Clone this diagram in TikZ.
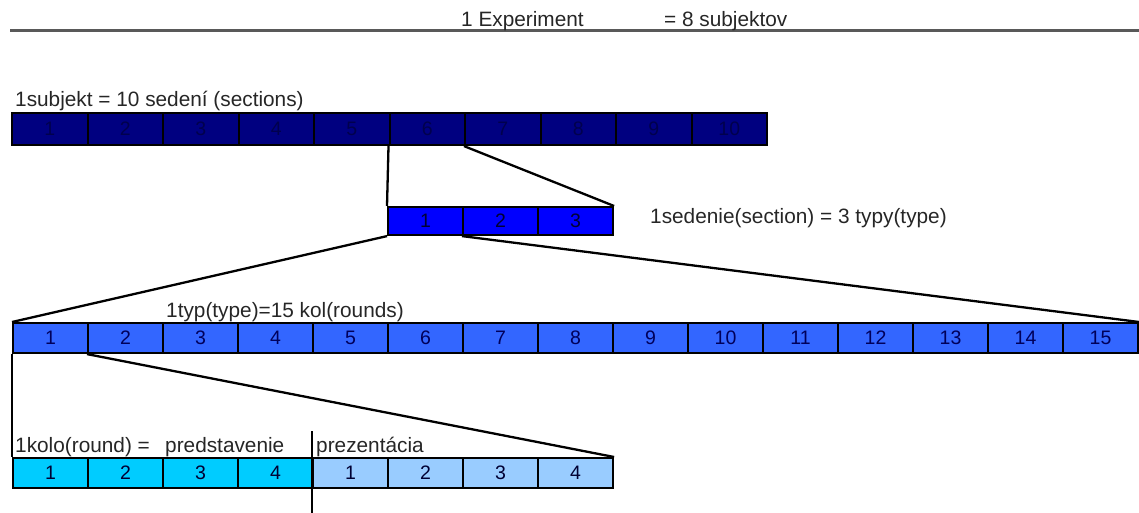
\documentclass[tikz,border=0pt]{standalone}
\usepackage{fontspec}
\setmainfont{Liberation Sans}
\definecolor{navy}{HTML}{000080}
\definecolor{pureblue}{HTML}{0000FF}
\definecolor{midblue}{HTML}{3366FF}
\definecolor{cyanbox}{HTML}{00CCFF}
\definecolor{paleblue}{HTML}{99CCFF}
\definecolor{numdark}{HTML}{000033}
\begin{document}
\begin{tikzpicture}[x=1pt,y=-1pt,
  every node/.style={font=\fontsize{19.5}{22}\selectfont},
  cellbox/.style={draw=black, line width=2.1pt, inner sep=0pt, anchor=north west,
    minimum width=#1, text=numdark},
  rowA/.style={cellbox=75.5pt, minimum height=32pt, fill=navy, text=navy!60!black},
  rowB/.style={cellbox=75pt, minimum height=28pt, fill=pureblue},
  rowC/.style={cellbox=75pt, minimum height=30pt, fill=midblue, text=navy!70!black},
  rowDa/.style={cellbox=75pt, minimum height=30pt, fill=cyanbox},
  rowDb/.style={cellbox=75pt, minimum height=30pt, fill=paleblue},
  lbl/.style={anchor=base west, inner sep=0pt, text=black!85, font=\fontsize{20.8}{24}\selectfont},
  conn/.style={draw=black, line width=2.3pt}
]
\useasboundingbox (0,0) rectangle (1139,513);

% top rule and title
\coordinate (tl) at (10,31);
\coordinate (tr) at (1139,31);
\draw[line width=3pt, black!65] (tl) -- (tr);
\node[lbl] (exp) at (461,27) {1 Experiment};
\node[lbl] (subj) at (664,27) {= 8 subjektov};

% row 1: sessions
\node[lbl] (l1) at (15,107) {1subjekt = 10 sedení (sections)};
\foreach \i in {1,...,10}
  \node[rowA] (s\i) at ({11+(\i-1)*75.5},112) {\i};

% row 2: types
\foreach \i in {1,...,3}
  \node[rowB] (t\i) at ({387+(\i-1)*75},206) {\i};
\node[lbl] (l2) at (650,223) {1sedenie(section) = 3 typy(type)};

% row 3: rounds
\node[lbl] (l3) at (166,317) {1typ(type)=15 kol(rounds)};
\foreach \i in {1,...,15}
  \node[rowC] (r\i) at ({12+(\i-1)*75},322) {\i};

% row 4: one round
\node[lbl] (l4a) at (15,452) {1kolo(round) =};
\node[lbl] (l4b) at (165,452) {predstavenie};
\node[lbl] (l4c) at (316,452) {prezentácia};
\foreach \i in {1,...,4}
  \node[rowDa] (k\i) at ({12+(\i-1)*75},457) {\i};
\foreach \i [evaluate=\i as \j using int(\i+4)] in {1,...,4}
  \node[rowDb] (k\j) at ({312+(\i-1)*75},457) {\i};

% connectors
\draw[conn] (s6.south west) -- (t1.north west);
\draw[conn] (s7.south west) -- (t3.north east);
\draw[conn] (t1.south west) -- (r1.north west);
\draw[conn] (t2.south west) -- (r15.north east);
\draw[conn] (r1.south west) -- (k1.north west);
\draw[conn] (r2.south west) -- (k8.north east);

% separator between predstavenie and prezentacia
\coordinate (septop) at (312,431);
\coordinate (sepbot) at (312,513);
\draw[conn] (septop) -- (sepbot);
\end{tikzpicture}
\end{document}
